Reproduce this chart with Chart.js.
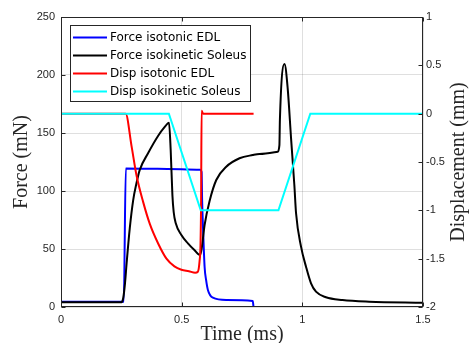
<!DOCTYPE html>
<html>
<head>
<meta charset="utf-8">
<script src="https://cdn.jsdelivr.net/npm/chart.js@4/dist/chart.umd.min.js"></script>
<style>
html,body{margin:0;padding:0;background:#fff;}
#wrap{width:470px;height:343px;position:relative;}
</style>
</head>
<body>
<div id="wrap"><canvas id="c" width="470" height="343"></canvas></div>
<script>
// ---- tick labels ----
const timeTicks  = [0, 0.5, 1, 1.5];
const forceTicks = [0, 50, 100, 150, 200, 250];
const dispTicks  = [-2, -1.5, -1, -0.5, 0, 0.5, 1];

// ---- series labels ----
const seriesLabels = ['Force isotonic EDL', 'Force isokinetic Soleus', 'Disp isotonic EDL', 'Disp isokinetic Soleus'];

// ---- Force isotonic EDL (mN) ----
const tForceEDL = [0, 0.260, 0.2686, 0.40, 0.5773, 0.5826, 0.5847, 0.5888, 0.5950, 0.6012, 0.6087, 0.6293, 0.6847, 0.7946, 0.7975];
const forceEDL  = [4.5, 4.5, 119.3, 119.2, 118.3, 116.4, 92.2, 66.4, 34.7, 23.3, 14.7, 8.0, 6.0, 5.2, 0.4];

// ---- Force isokinetic Soleus (mN) ----
const tForceSol = [0, 0.2508, 0.2580, 0.2650, 0.2720, 0.2850, 0.2990, 0.3120, 0.3260, 0.3607, 0.4021, 0.4298, 0.4475,
                   0.4545, 0.4616, 0.4669, 0.4752, 0.4988, 0.5260, 0.5537, 0.5764, 0.5826, 0.5950, 0.6157,
                   0.6434, 0.6847, 0.7397, 0.7946, 0.8223, 0.8979, 0.9050, 0.9070, 0.9260, 0.9393, 0.9533,
                   0.9669, 0.9740, 0.9946, 1.0153, 1.0360, 1.0566, 1.0979, 1.1665, 1.2769, 1.5];
const forceSol  = [4, 4, 8, 20, 38, 68, 92, 106, 118, 132.5, 147.4, 155.2, 158.9,
                   135.3, 96.5, 81.9, 72.4, 62.1, 54.9, 48.9, 44.8, 50.0, 70.7, 91.4,
                   109.5, 120.9, 128.2, 131.0, 131.9, 133.9, 139.6, 161.0, 209.5, 188.5, 145.4,
                   105.2, 80.8, 52.0, 34.7, 20.4, 13.2, 8.4, 6.0, 4.6, 3.7];

// ---- Disp isotonic EDL (mm) ----
const tDispEDL = [0, 0.268, 0.292, 0.313, 0.340, 0.368, 0.402, 0.437, 0.470, 0.499, 0.530, 0.556, 0.567, 0.574, 0.578, 0.5806, 0.5826, 0.589, 0.798];
const dispEDL  = [0, 0, -0.33, -0.64, -0.91, -1.14, -1.34, -1.50, -1.58, -1.615, -1.63, -1.645, -1.635, -1.53, -1.36, -0.89, 0.03, 0, 0];

// ---- Disp isokinetic Soleus (mm) ----
const tDispSol = [0, 0.447, 0.579, 0.901, 1.033, 1.5];
const dispSol  = [0, 0, -1, -1, 0, 0];

const seriesColors = ['#0000ff', '#000000', '#ff0000', '#00ffff'];

function pts(ts, vs) { return ts.map((t, i) => ({x: t, y: vs[i]})); }

const axisColor = '#262626';
const gridColor = 'rgba(38,38,38,0.15)';
const tickFont = {family: '"Liberation Sans", Arial, sans-serif', size: 11};
const titleFont = {family: '"Liberation Serif", "Times New Roman", serif', size: 20};

const framePlugin = {
  id: 'frame',
  afterDatasetsDraw(chart) {
    const {ctx, chartArea: a, scales} = chart;
    ctx.save();
    ctx.strokeStyle = axisColor;
    ctx.lineWidth = 1;
    const L = Math.round(a.left) + 0.5, R = Math.round(a.right) - 0.5;
    const T = Math.round(a.top) + 0.5, B = Math.round(a.bottom) - 0.5;
    ctx.strokeRect(L, T, R - L, B - T);
    const tl = 4;
    ctx.beginPath();
    scales.x.ticks.forEach(tk => {
      const px = Math.round(scales.x.getPixelForValue(tk.value)) + 0.5;
      ctx.moveTo(px, B); ctx.lineTo(px, B - tl);
      ctx.moveTo(px, T); ctx.lineTo(px, T + tl);
    });
    scales.y.ticks.forEach(tk => {
      const py = Math.round(scales.y.getPixelForValue(tk.value)) + 0.5;
      ctx.moveTo(L, py); ctx.lineTo(L + tl, py);
    });
    scales.y2.ticks.forEach(tk => {
      const py = Math.round(scales.y2.getPixelForValue(tk.value)) + 0.5;
      ctx.moveTo(R, py); ctx.lineTo(R - tl, py);
    });
    ctx.stroke();
    // right axis title (reads bottom-to-top like MATLAB)
    ctx.fillStyle = axisColor;
    ctx.font = `${titleFont.size}px ${titleFont.family}`;
    ctx.textAlign = 'center';
    ctx.textBaseline = 'middle';
    ctx.translate(scales.y2.right - 11.5, (a.top + a.bottom) / 2);
    ctx.rotate(-Math.PI / 2);
    ctx.fillText('Displacement (mm)', 0, 0);
    ctx.restore();
  }
};

const legendPlugin = {
  id: 'insetLegend',
  afterDraw(chart) {
    const {ctx, chartArea: a} = chart;
    const items = chart.data.datasets;
    ctx.save();
    ctx.font = '12px "DejaVu Sans", sans-serif';
    const textW = Math.max(...items.map(d => ctx.measureText(d.label).width));
    const bx = Math.round(a.left + 9), by = Math.round(a.top + 8);
    const bw = Math.round(40 + textW + 4), bh = 76;
    ctx.fillStyle = '#ffffff';
    ctx.fillRect(bx, by, bw, bh);
    ctx.strokeStyle = axisColor;
    ctx.lineWidth = 1;
    ctx.strokeRect(bx + 0.5, by + 0.5, bw, bh);
    items.forEach((d, i) => {
      const cy = by + 12.5 + i * 18;
      ctx.strokeStyle = d.borderColor;
      ctx.lineWidth = 2;
      ctx.beginPath();
      ctx.moveTo(bx + 3, cy);
      ctx.lineTo(bx + 37, cy);
      ctx.stroke();
      ctx.fillStyle = '#000';
      ctx.textAlign = 'left';
      ctx.textBaseline = 'middle';
      ctx.fillText(d.label, bx + 40, cy + 0.5);
    });
    ctx.restore();
  }
};

const allSeries = [
  {t: tForceEDL, v: forceEDL, axis: 'y',  order: 3, smooth: true},
  {t: tForceSol, v: forceSol, axis: 'y',  order: 2, smooth: true},
  {t: tDispEDL,  v: dispEDL,  axis: 'y2', order: 1, smooth: true},
  {t: tDispSol,  v: dispSol,  axis: 'y2', order: 0, smooth: false}
];

new Chart(document.getElementById('c'), {
  type: 'line',
  data: {
    datasets: allSeries.map((s, i) => ({
      label: seriesLabels[i],
      data: pts(s.t, s.v),
      yAxisID: s.axis,
      order: s.order,
      borderColor: seriesColors[i],
      backgroundColor: seriesColors[i],
      borderWidth: 2,
      pointRadius: 0,
      fill: false,
      tension: 0,
      cubicInterpolationMode: s.smooth ? 'monotone' : 'default'
    }))
  },
  options: {
    responsive: false,
    animation: false,
    events: [],
    devicePixelRatio: 1,
    layout: {padding: {top: 17, right: 0, bottom: 0, left: 0}},
    plugins: {legend: {display: false}, tooltip: {enabled: false}},
    scales: {
      x: {
        type: 'linear', position: 'bottom', min: 0, max: 1.5,
        afterBuildTicks: s => { s.ticks = timeTicks.map(v => ({value: v})); },
        afterFit: s => { s.height = 36; },
        ticks: {font: tickFont, color: axisColor, padding: 6, maxRotation: 0, callback: v => String(v)},
        grid: {color: gridColor, drawTicks: false, lineWidth: 1},
        border: {display: false},
        title: {display: true, text: 'Time (ms)', font: {...titleFont, lineHeight: 0.8}, color: axisColor, padding: 0}
      },
      y: {
        type: 'linear', position: 'left', min: 0, max: 250,
        afterBuildTicks: s => { s.ticks = forceTicks.map(v => ({value: v})); },
        afterFit: s => { s.width = 61; },
        ticks: {font: tickFont, color: axisColor, padding: 6, callback: v => String(v)},
        grid: {color: gridColor, drawTicks: false, lineWidth: 1},
        border: {display: false},
        title: {display: true, text: 'Force (mN)', font: {...titleFont, lineHeight: 1.2}, color: axisColor, padding: {top: 10, bottom: 0}}
      },
      y2: {
        type: 'linear', position: 'right', min: -2, max: 1,
        afterBuildTicks: s => { s.ticks = dispTicks.map(v => ({value: v})); },
        afterFit: s => { s.width = 47; },
        ticks: {font: tickFont, color: axisColor, padding: 3, callback: v => String(v)},
        grid: {drawOnChartArea: false, drawTicks: false},
        border: {display: false}
      }
    }
  },
  plugins: [framePlugin, legendPlugin]
});
</script>
</body>
</html>
